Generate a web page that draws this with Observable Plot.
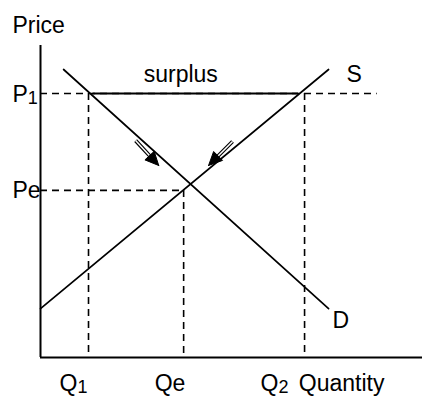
<!DOCTYPE html>
<html>
<head>
<meta charset="utf-8">
<script src="https://cdn.jsdelivr.net/npm/d3@7"></script>
<script src="https://cdn.jsdelivr.net/npm/@observablehq/plot@0.6"></script>
<style>
  html, body { margin: 0; padding: 0; background: #fff; }
  #chart svg { display: block; }
</style>
</head>
<body>
<div id="chart"></div>
<script>
// ---- Data (arbitrary units) ----
const priceLabels = ["P", "Pe"];
const priceSubs = ["1", ""];
const priceValues = [8.8, 5.57];

const qtyLabels = ["Q", "Qe", "Q"];
const qtySubs = ["1", "", "2"];
const qtyValues = [1.6, 4.77, 8.8];

const supplyQ = [0, 9.6];
const supplyP = [1.63, 9.6];
const demandQ = [0.77, 9.6];
const demandP = [9.6, 1.63];

const surplusQ = [1.75, 8.6];   // solid segment at P1
const p1GuideEnd = 11.22;       // P1 dashed guide extends to here

const arrowTailQ = [3.17, 6.4];
const arrowTailP = [7.23, 7.2];
const arrowTipQ = [3.94, 5.6];
const arrowTipP = [6.4, 6.4];

const axisMaxQ = 12.73;
const axisMaxP = 10.4;

// ---- Build tables ----
const supply = supplyQ.map((q, i) => ({q, p: supplyP[i]}));
const demand = demandQ.map((q, i) => ({q, p: demandP[i]}));

const hGuides = [
  {x1: 0, x2: p1GuideEnd, y: priceValues[0]},
  {x1: 0, x2: qtyValues[1], y: priceValues[1]}
];
const vGuides = qtyValues.map((q, i) => ({x: q, y1: i === 1 ? priceValues[1] : priceValues[0], y2: 0}));

const headLen = 0.45, headHalf = 0.21;
const shafts = [], heads = [];
arrowTipQ.forEach((tq, i) => {
  const tp = arrowTipP[i], aq = arrowTailQ[i], ap = arrowTailP[i];
  const dq = tq - aq, dp = tp - ap, L = Math.hypot(dq, dp);
  const uq = dq / L, up = dp / L;
  const bq = tq - uq * headLen, bp = tp - up * headLen;
  shafts.push({q: aq, p: ap, k: i}, {q: bq + uq * 0.05, p: bp + up * 0.05, k: i});
  heads.push(
    {q: tq, p: tp, k: i},
    {q: bq - up * headHalf, p: bp + uq * headHalf, k: i},
    {q: bq + up * headHalf, p: bp - uq * headHalf, k: i},
    {q: tq, p: tp, k: i}
  );
});

// layout nudges for quantity tick labels (data units)
const qtyLabelNudge = [0, 0, -0.5];
const qtyLabelX = (d, i) => qtyValues[i] + qtyLabelNudge[i];

const font = "'Liberation Sans', Arial, Helvetica, sans-serif";
const fs = 23, subFs = 18;

const chart = Plot.plot({
  width: 422,
  height: 396,
  marginLeft: 40,
  marginRight: 0,
  marginTop: 45,
  marginBottom: 39,
  x: {domain: [0, axisMaxQ], axis: null},
  y: {domain: [0, axisMaxP], axis: null},
  style: {fontFamily: font, background: "#fff", color: "#000"},
  marks: [
    // dashed guides
    Plot.ruleY(hGuides, {y: "y", x1: "x1", x2: "x2", stroke: "#000", strokeWidth: 1.6, strokeDasharray: "7,5"}),
    Plot.ruleX(vGuides, {x: "x", y1: "y1", y2: "y2", stroke: "#000", strokeWidth: 1.6, strokeDasharray: "7,5"}),
    // surplus segment
    Plot.ruleY([priceValues[0]], {x1: surplusQ[0], x2: surplusQ[1], stroke: "#000", strokeWidth: 2}),
    // axes
    Plot.ruleX([0], {y1: 0, y2: axisMaxP, stroke: "#000", strokeWidth: 2}),
    Plot.ruleY([0], {x1: 0, x2: axisMaxQ, stroke: "#000", strokeWidth: 2}),
    // supply & demand
    Plot.line(supply, {x: "q", y: "p", stroke: "#000", strokeWidth: 1.7}),
    Plot.line(demand, {x: "q", y: "p", stroke: "#000", strokeWidth: 1.7}),
    // arrows (double shaft + filled head)
    Plot.line(shafts, {x: "q", y: "p", z: "k", stroke: "#000", strokeWidth: 3.8, strokeLinecap: "butt"}),
    Plot.line(shafts, {x: "q", y: "p", z: "k", stroke: "#fff", strokeWidth: 1.5, strokeLinecap: "butt"}),
    Plot.line(heads, {x: "q", y: "p", z: "k", fill: "#000", stroke: "#000", strokeWidth: 1}),
    // price labels
    Plot.text(priceLabels, {x: 0, y: (d, i) => priceValues[i], text: d => d, textAnchor: "start", lineAnchor: "bottom", dx: -28, dy: 8, fontSize: fs, fill: "#000"}),
    Plot.text(priceSubs, {x: 0, y: (d, i) => priceValues[i], text: d => d, textAnchor: "start", lineAnchor: "bottom", dx: -12.7, dy: 10, fontSize: subFs, fill: "#000"}),
    // quantity labels
    Plot.text(qtyLabels, {x: qtyLabelX, y: 0, text: d => d, textAnchor: "start", lineAnchor: "bottom", dx: -29, dy: 33, fontSize: fs, fill: "#000"}),
    Plot.text(qtySubs, {x: qtyLabelX, y: 0, text: d => d, textAnchor: "start", lineAnchor: "bottom", dx: -11, dy: 35, fontSize: subFs, fill: "#000"}),
    // curve labels
    Plot.text(["S"], {x: supplyQ[1], y: supplyP[1], text: d => d, textAnchor: "start", lineAnchor: "bottom", dx: 18, dy: 12, fontSize: fs, fill: "#000"}),
    Plot.text(["D"], {x: demandQ[1], y: demandP[1], text: d => d, textAnchor: "start", lineAnchor: "bottom", dx: 4, dy: 19, fontSize: fs, fill: "#000"}),
    Plot.text(["surplus"], {x: (surplusQ[0] + surplusQ[1]) / 2, y: priceValues[0], text: d => d, textAnchor: "middle", lineAnchor: "bottom", dx: -15, dy: -12, fontSize: fs, fill: "#000"}),
    // axis titles
    Plot.text(["Quantity"], {x: axisMaxQ, y: 0, text: d => d, textAnchor: "end", lineAnchor: "bottom", dx: -38, dy: 33, fontSize: fs, fill: "#000"}),
    Plot.text(["Price"], {x: 0, y: axisMaxP, text: d => d, textAnchor: "start", lineAnchor: "bottom", dx: -28, dy: -13, fontSize: fs, fill: "#000"})
  ]
});
document.getElementById("chart").appendChild(chart);
</script>
</body>
</html>
